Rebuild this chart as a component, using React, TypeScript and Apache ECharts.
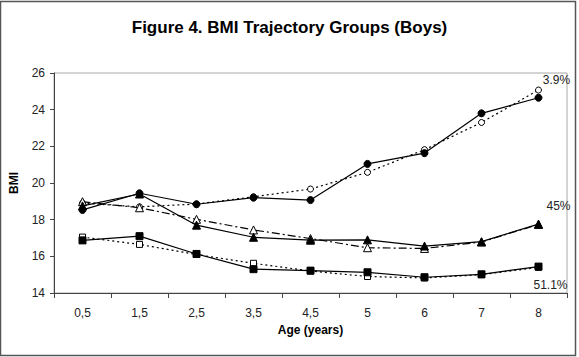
import React, { useEffect, useRef } from "react";
import * as echarts from "echarts";

// Age categories (years) on the x axis
const ages = ["0,5", "1,5", "2,5", "3,5", "4,5", "5", "6", "7", "8"];

// Highest-BMI group (3.9%): estimated (filled) and observed (open)
const highFilled = [18.53, 19.44, 18.84, 19.2, 19.07, 21.04, 21.63, 23.8, 24.65];
const highOpen = [18.9, 18.7, 18.85, 19.25, 19.67, 20.58, 21.82, 23.3, 25.07];

// Middle group (45%)
const midFilled = [18.75, 19.4, 17.7, 17.04, 16.88, 16.9, 16.56, 16.8, 17.76];
const midOpen = [18.98, 18.65, 18.02, 17.44, 16.97, 16.47, 16.43, 16.78, 17.74];

// Lowest group (51.1%)
const lowFilled = [16.87, 17.1, 16.13, 15.3, 15.22, 15.13, 14.86, 15.02, 15.44];
const lowOpen = [17.05, 16.65, 16.1, 15.62, 15.2, 14.9, 14.82, 15.0, 15.4];

// Group share labels
const shareLabels = ["3.9%", "45%", "51.1%"];

const FONT = "'Liberation Sans', Arial, sans-serif";

function withEndLabel(values: number[], text: string, offset: [number, number]) {
  return values.map((v, i) =>
    i === values.length - 1
      ? {
          value: v,
          label: {
            show: true,
            formatter: text,
            position: "inside",
            offset,
            color: "#222",
            fontSize: 12,
            fontFamily: FONT,
          },
        }
      : v
  );
}

export default function App() {
  const ref = useRef<HTMLDivElement>(null);

  useEffect(() => {
    if (!ref.current) return;
    const chart = echarts.init(ref.current, null, { renderer: "svg" });

    // open-marker (observed) series sit underneath, filled (estimated) ones on top
    const open = {
      type: "line",
      showSymbol: true,
      showAllSymbol: true,
      itemStyle: { color: "#fff", borderColor: "#000", borderWidth: 1 },
      z: 2,
    };
    const filled = {
      type: "line",
      showSymbol: true,
      showAllSymbol: true,
      itemStyle: { color: "#000", borderColor: "#000", borderWidth: 1 },
      z: 4,
    };

    chart.setOption({
      animation: false,
      backgroundColor: "#fff",
      title: {
        text: "Figure 4. BMI Trajectory Groups (Boys)",
        left: "center",
        top: 14,
        textStyle: { fontFamily: FONT, fontSize: 17, fontWeight: "bold", color: "#000" },
      },
      grid: {
        left: 49,
        right: 12,
        top: 73,
        bottom: 64,
        show: true,
        borderColor: "#a8a8a8",
        borderWidth: 1,
        backgroundColor: "transparent",
      },
      xAxis: {
        type: "category",
        data: ages,
        boundaryGap: true,
        name: "Age (years)",
        nameLocation: "middle",
        nameGap: 31,
        nameTextStyle: { fontFamily: FONT, fontSize: 12, fontWeight: "bold", color: "#000" },
        axisLine: { lineStyle: { color: "#444", width: 1 } },
        axisTick: { show: true, alignWithLabel: false, length: 5, lineStyle: { color: "#444" } },
        axisLabel: { fontFamily: FONT, fontSize: 12, color: "#222", margin: 14 },
        splitLine: { show: false },
      },
      yAxis: {
        type: "value",
        min: 14,
        max: 26,
        interval: 2,
        name: "BMI",
        nameLocation: "middle",
        nameGap: 34,
        nameRotate: 90,
        nameTextStyle: { fontFamily: FONT, fontSize: 12, fontWeight: "bold", color: "#000" },
        axisLine: { show: true, lineStyle: { color: "#444", width: 1 } },
        axisTick: { show: true, length: 4, lineStyle: { color: "#444" } },
        axisLabel: { fontFamily: FONT, fontSize: 12, color: "#222", margin: 9 },
        splitLine: { show: false },
      },
      graphic: [
        {
          type: "rect",
          shape: { x: 0.5, y: 1.5, width: 575, height: 354 },
          style: { fill: "none", stroke: "#555", lineWidth: 1.5 },
          silent: true,
        },
      ],
      series: [
        {
          ...open,
          name: "high-obs",
          data: highOpen,
          symbol: "circle",
          symbolSize: 6,
          lineStyle: { color: "#000", width: 1.2, type: [2, 3] },
        },
        {
          ...open,
          name: "mid-obs",
          data: midOpen,
          symbol: "triangle",
          symbolSize: 8,
          lineStyle: { color: "#000", width: 1.2, type: [8, 3, 2, 3] },
        },
        {
          ...open,
          name: "low-obs",
          data: lowOpen,
          symbol: "rect",
          symbolSize: 6,
          lineStyle: { color: "#000", width: 1.2, type: [2, 3] },
        },
        {
          ...filled,
          name: "high-est",
          data: withEndLabel(highFilled, shareLabels[0], [18, -18]),
          symbol: "circle",
          symbolSize: 7,
          lineStyle: { color: "#000", width: 1.2, type: "solid" },
        },
        {
          ...filled,
          name: "mid-est",
          data: withEndLabel(midFilled, shareLabels[1], [20, -18]),
          symbol: "triangle",
          symbolSize: 8,
          lineStyle: { color: "#000", width: 1.2, type: "solid" },
        },
        {
          ...filled,
          name: "low-est",
          data: withEndLabel(lowFilled, shareLabels[2], [12, 18]),
          symbol: "rect",
          symbolSize: 7,
          lineStyle: { color: "#000", width: 1.2, type: "solid" },
        },
      ],
    });

    return () => chart.dispose();
  }, []);

  return (
    <div
      ref={ref}
      style={{ position: "absolute", left: 0, top: 0, width: 579, height: 357 }}
    />
  );
}
